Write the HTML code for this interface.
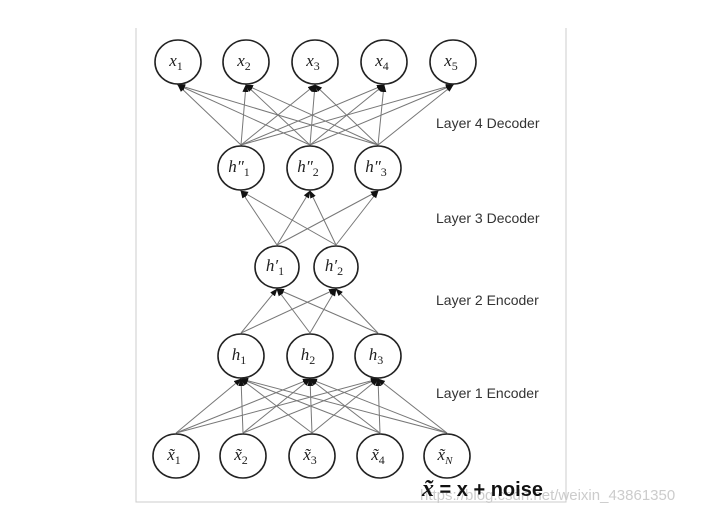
<!DOCTYPE html>
<html><head><meta charset="utf-8"><style>
html,body{margin:0;padding:0;background:#fff;}
svg{display:block;}
</style></head><body>
<svg width="715" height="520" viewBox="0 0 715 520" xmlns="http://www.w3.org/2000/svg">
<defs><marker id="a" markerWidth="8" markerHeight="8" refX="7" refY="4" orient="auto" markerUnits="userSpaceOnUse"><path d="M0,1 L8,4 L0,7 z" fill="#111"/></marker></defs>
<path d="M136,28 V502 H566 V28" fill="none" stroke="#ccc" stroke-width="1"/>
<g stroke="#777" stroke-width="1" marker-end="url(#a)">
<line x1="241" y1="145" x2="178" y2="85"/><line x1="241" y1="145" x2="246" y2="85"/><line x1="241" y1="145" x2="315" y2="85"/><line x1="241" y1="145" x2="384" y2="85"/><line x1="241" y1="145" x2="453" y2="85"/>
<line x1="310" y1="145" x2="178" y2="85"/><line x1="310" y1="145" x2="246" y2="85"/><line x1="310" y1="145" x2="315" y2="85"/><line x1="310" y1="145" x2="384" y2="85"/><line x1="310" y1="145" x2="453" y2="85"/>
<line x1="378" y1="145" x2="178" y2="85"/><line x1="378" y1="145" x2="246" y2="85"/><line x1="378" y1="145" x2="315" y2="85"/><line x1="378" y1="145" x2="384" y2="85"/><line x1="378" y1="145" x2="453" y2="85"/>
<line x1="277" y1="245" x2="241" y2="191"/><line x1="277" y1="245" x2="310" y2="191"/><line x1="277" y1="245" x2="378" y2="191"/>
<line x1="336" y1="245" x2="241" y2="191"/><line x1="336" y1="245" x2="310" y2="191"/><line x1="336" y1="245" x2="378" y2="191"/>
<line x1="241" y1="333" x2="277" y2="289"/><line x1="241" y1="333" x2="336" y2="289"/>
<line x1="310" y1="333" x2="277" y2="289"/><line x1="310" y1="333" x2="336" y2="289"/>
<line x1="378" y1="333" x2="277" y2="289"/><line x1="378" y1="333" x2="336" y2="289"/>
<line x1="176" y1="433" x2="241" y2="379"/><line x1="176" y1="433" x2="310" y2="379"/><line x1="176" y1="433" x2="378" y2="379"/>
<line x1="243" y1="433" x2="241" y2="379"/><line x1="243" y1="433" x2="310" y2="379"/><line x1="243" y1="433" x2="378" y2="379"/>
<line x1="312" y1="433" x2="241" y2="379"/><line x1="312" y1="433" x2="310" y2="379"/><line x1="312" y1="433" x2="378" y2="379"/>
<line x1="380" y1="433" x2="241" y2="379"/><line x1="380" y1="433" x2="310" y2="379"/><line x1="380" y1="433" x2="378" y2="379"/>
<line x1="447" y1="433" x2="241" y2="379"/><line x1="447" y1="433" x2="310" y2="379"/><line x1="447" y1="433" x2="378" y2="379"/>
</g>
<g fill="#fff" stroke="#222" stroke-width="1.6">
<ellipse cx="178" cy="62" rx="23" ry="22"/><ellipse cx="246" cy="62" rx="23" ry="22"/><ellipse cx="315" cy="62" rx="23" ry="22"/><ellipse cx="384" cy="62" rx="23" ry="22"/><ellipse cx="453" cy="62" rx="23" ry="22"/>
<ellipse cx="241" cy="168" rx="23" ry="22"/><ellipse cx="310" cy="168" rx="23" ry="22"/><ellipse cx="378" cy="168" rx="23" ry="22"/>
<ellipse cx="277" cy="267" rx="22" ry="21"/><ellipse cx="336" cy="267" rx="22" ry="21"/>
<ellipse cx="241" cy="356" rx="23" ry="22"/><ellipse cx="310" cy="356" rx="23" ry="22"/><ellipse cx="378" cy="356" rx="23" ry="22"/>
<ellipse cx="176" cy="456" rx="23" ry="22"/><ellipse cx="243" cy="456" rx="23" ry="22"/><ellipse cx="312" cy="456" rx="23" ry="22"/><ellipse cx="380" cy="456" rx="23" ry="22"/><ellipse cx="447" cy="456" rx="23" ry="22"/>
</g>
<g font-family="Liberation Serif, serif" font-style="italic" font-size="17" fill="#222" text-anchor="middle">
<text x="176" y="66">x<tspan font-style="normal" font-size="12" dy="4">1</tspan></text>
<text x="244" y="66">x<tspan font-style="normal" font-size="12" dy="4">2</tspan></text>
<text x="313" y="66">x<tspan font-style="normal" font-size="12" dy="4">3</tspan></text>
<text x="382" y="66">x<tspan font-style="normal" font-size="12" dy="4">4</tspan></text>
<text x="451" y="66">x<tspan font-style="normal" font-size="12" dy="4">5</tspan></text>
<text x="239" y="172">h″<tspan font-style="normal" font-size="12" dy="4">1</tspan></text>
<text x="308" y="172">h″<tspan font-style="normal" font-size="12" dy="4">2</tspan></text>
<text x="376" y="172">h″<tspan font-style="normal" font-size="12" dy="4">3</tspan></text>
<text x="275" y="271">h′<tspan font-style="normal" font-size="12" dy="4">1</tspan></text>
<text x="334" y="271">h′<tspan font-style="normal" font-size="12" dy="4">2</tspan></text>
<text x="239" y="360">h<tspan font-style="normal" font-size="12" dy="4">1</tspan></text>
<text x="308" y="360">h<tspan font-style="normal" font-size="12" dy="4">2</tspan></text>
<text x="376" y="360">h<tspan font-style="normal" font-size="12" dy="4">3</tspan></text>
<text x="174" y="460">x̃<tspan font-style="normal" font-size="12" dy="4">1</tspan></text>
<text x="241" y="460">x̃<tspan font-style="normal" font-size="12" dy="4">2</tspan></text>
<text x="310" y="460">x̃<tspan font-style="normal" font-size="12" dy="4">3</tspan></text>
<text x="378" y="460">x̃<tspan font-style="normal" font-size="12" dy="4">4</tspan></text>
<text x="445" y="460">x̃<tspan font-size="11" dy="4">N</tspan></text>
</g>
<g font-family="Liberation Sans, sans-serif" font-size="14" fill="#333">
<text x="436" y="128">Layer 4 Decoder</text>
<text x="436" y="223">Layer 3 Decoder</text>
<text x="436" y="305">Layer 2 Encoder</text>
<text x="436" y="398">Layer 1 Encoder</text>
</g>
<text x="420" y="500" font-family="Liberation Sans, sans-serif" font-size="15" fill="#ccc">https://blog.csdn.net/weixin_43861350</text>
<text x="422" y="496" font-family="Liberation Sans, sans-serif" font-weight="bold" font-size="20" fill="#111"><tspan font-family="Liberation Serif, serif" font-style="italic" font-size="24">x̃</tspan> = x + noise</text>
</svg>
</body></html>
